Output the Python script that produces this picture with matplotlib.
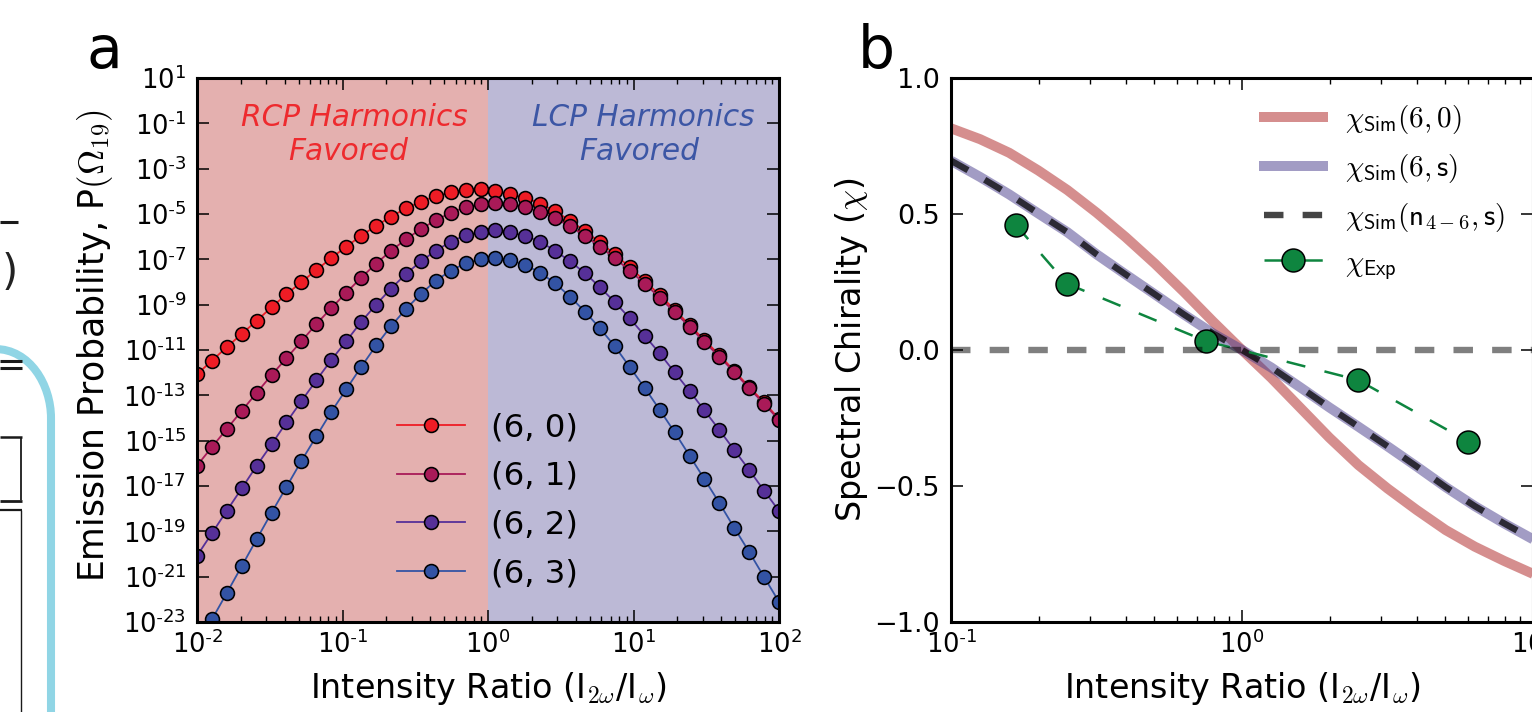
import numpy as np
import matplotlib
matplotlib.use("Agg")
import matplotlib.pyplot as plt
from matplotlib.lines import Line2D
from matplotlib.patches import PathPatch
from matplotlib.path import Path

W, H = 1532, 712
plt.rcParams.update({"font.family": "DejaVu Sans", "mathtext.fontset": "cm", "font.size": 18})

# Panel a: log10 of the emission probability, sampled at 40 log-spaced ratios
log_ratio_a = [-2.0, -1.897, -1.795, -1.692, -1.59, -1.487, -1.385, -1.282, -1.179, -1.077,
               -0.974, -0.872, -0.769, -0.667, -0.564, -0.462, -0.359, -0.256, -0.154, -0.051,
               0.051, 0.154, 0.256, 0.359, 0.462, 0.564, 0.667, 0.769, 0.872, 0.974,
               1.077, 1.179, 1.282, 1.385, 1.487, 1.59, 1.692, 1.795, 1.897, 2.0]
log_p_60 = [-12.07, -11.47, -10.87, -10.29, -9.71, -9.11, -8.54, -8.00, -7.47, -6.94,
            -6.44, -5.96, -5.52, -5.12, -4.75, -4.46, -4.21, -4.04, -3.94, -3.90,
            -3.97, -4.12, -4.28, -4.54, -4.88, -5.29, -5.76, -6.25, -6.78, -7.35,
            -7.95, -8.57, -9.22, -9.90, -10.56, -11.22, -11.92, -12.63, -13.31, -14.04]
log_p_61 = [-16.10, -15.28, -14.48, -13.68, -12.89, -12.10, -11.36, -10.61, -9.85, -9.15,
            -8.47, -7.81, -7.19, -6.62, -6.12, -5.66, -5.28, -4.94, -4.70, -4.57,
            -4.53, -4.57, -4.69, -4.91, -5.19, -5.54, -5.96, -6.44, -6.95, -7.50,
            -8.07, -8.69, -9.32, -9.97, -10.65, -11.29, -11.98, -12.69, -13.37, -14.09]
log_p_62 = [-20.08, -19.08, -18.09, -17.10, -16.11, -15.16, -14.19, -13.25, -12.33, -11.44,
            -10.61, -9.76, -9.00, -8.29, -7.65, -7.09, -6.62, -6.22, -5.94, -5.78,
            -5.72, -5.81, -5.96, -6.23, -6.62, -7.09, -7.61, -8.23, -8.89, -9.60,
            -10.37, -11.14, -11.98, -12.81, -13.66, -14.53, -15.41, -16.29, -17.20, -18.10]
log_p_63 = [-24.05, -22.88, -21.72, -20.53, -19.35, -18.17, -17.04, -15.89, -14.80, -13.73,
            -12.73, -11.75, -10.80, -9.95, -9.19, -8.53, -7.94, -7.50, -7.17, -6.98,
            -6.93, -7.03, -7.25, -7.59, -8.06, -8.65, -9.31, -10.04, -10.84, -11.75,
            -12.67, -13.63, -14.62, -15.66, -16.69, -17.75, -18.84, -19.91, -21.01, -22.11]
labels_a = ["(6, 0)", "(6, 1)", "(6, 2)", "(6, 3)"]
colors_a = ["#ee1c25", "#a91a58", "#563098", "#3353a4"]
yticks_a = [1, -1, -3, -5, -7, -9, -11, -13, -15, -17, -19, -21, -23]

# Panel b: spectral chirality
log_ratio_b = [-1.0, -0.9, -0.8, -0.7, -0.6, -0.5, -0.4, -0.3, -0.2, -0.1, 0.0,
               0.1, 0.2, 0.3, 0.4, 0.5, 0.6, 0.7, 0.8, 0.9, 1.0]
chi_sim_60 = [0.815, 0.775, 0.725, 0.660, 0.588, 0.505, 0.415, 0.318, 0.214, 0.105, 0.0,
              -0.102, -0.212, -0.322, -0.423, -0.509, -0.588, -0.662, -0.723, -0.775, -0.823]
chi_sim_6s = [0.696, 0.636, 0.572, 0.502, 0.433, 0.352, 0.278, 0.205, 0.131, 0.061, 0.0,
              -0.064, -0.137, -0.211, -0.282, -0.354, -0.428, -0.504, -0.574, -0.637, -0.696]
chi_sim_n46 = [0.696, 0.636, 0.572, 0.502, 0.433, 0.352, 0.278, 0.205, 0.131, 0.061, 0.0,
               -0.064, -0.137, -0.211, -0.282, -0.354, -0.428, -0.504, -0.574, -0.637, -0.696]
ratio_exp = [0.1667, 0.25, 0.75, 2.5, 6.0]
chi_exp = [0.461, 0.244, 0.033, -0.110, -0.337]


def ax_px(left, top, right, bottom):
    return [left / W, 1 - bottom / H, (right - left) / W, (bottom - top) / H]


def style(ax):
    for s in ax.spines.values():
        s.set_linewidth(2.2)
    ax.tick_params(which="major", direction="in", length=8.6, width=1.1, top=True, right=True, labelsize=18.5, pad=7)
    ax.tick_params(which="minor", direction="in", length=4.3, width=1.0, top=True, right=True)


fig = plt.figure(figsize=(W / 100, H / 100), dpi=100)

# ---- panel a
ax = fig.add_axes(ax_px(197, 78, 779, 622))
ax.set_xscale("log")
ax.set_yscale("log")
ax.axvspan(1e-2, 1, color="#e4b0af", lw=0, zorder=0)
ax.axvspan(1, 1e2, color="#bcb9d6", lw=0, zorder=0)
x_a = 10.0 ** np.array(log_ratio_a)
for vals, lab, col in zip([log_p_60, log_p_61, log_p_62, log_p_63], labels_a, colors_a):
    ax.plot(x_a, 10.0 ** np.array(vals), "-o", color=col, lw=1.3, ms=10, mec="black", mew=1.15, label=lab)
ax.set_xlim(1e-2, 1e2)
ax.set_ylim(1e-23, 1e1)
style(ax)
ax.set_xticks([1e-2, 1e-1, 1, 1e1, 1e2])
ax.set_xticklabels([r"$\mathdefault{10^{\text{-}2}}$", r"$\mathdefault{10^{\text{-}1}}$",
                    r"$\mathdefault{10^{0}}$", r"$\mathdefault{10^{1}}$", r"$\mathdefault{10^{2}}$"])
ax.set_yticks([10.0 ** e for e in yticks_a])
ax.set_yticklabels([r"$\mathdefault{10^{%s}}$" % (str(e).replace("-", r"\text{-}")) for e in yticks_a])
ax.yaxis.set_minor_locator(matplotlib.ticker.NullLocator())
ax.tick_params(axis="y", which="major", pad=8)
ax.tick_params(axis="x", which="major", pad=6)
ax.set_xlabel(r"Intensity Ratio (I$_{2\omega}$/I$_{\omega}$)", fontsize=24)
ax.xaxis.set_label_coords(0.5, -0.089)
ax.set_ylabel(r"Emission Probability, P$(\Omega_{19})$", fontsize=25)
ax.yaxis.set_label_coords(-0.141, 0.508)
for xa, xf, name, col in [(0.2698, 0.2595, "RCP Harmonics", "#ee2a2e"), (0.7666, 0.7595, "LCP Harmonics", "#3c56a5")]:
    ax.text(xa, 0.927, name, color=col, style="italic", fontsize=21.3, ha="center", va="center", transform=ax.transAxes)
    ax.text(xf, 0.865, "Favored", color=col, style="italic", fontsize=21.3, ha="center", va="center", transform=ax.transAxes)
ax.legend(loc="lower left", bbox_to_anchor=(0.311, 0.024), frameon=False, fontsize=23.3, handlelength=2.1,
          handletextpad=0.8, labelspacing=0.55, numpoints=1, borderaxespad=0.3, borderpad=0.3)

# ---- panel b
bx = fig.add_axes(ax_px(951, 78, 1533, 622))
bx.set_xscale("log")
x_b = 10.0 ** np.array(log_ratio_b)
bx.plot(x_b, chi_sim_60, color="#ad1f1f", alpha=0.5, lw=7.2, solid_capstyle="butt", label=r"$\chi_{\mathsf{Sim}}(6,0)$")
bx.plot(x_b, chi_sim_6s, color="#473b8b", alpha=0.5, lw=7.2, solid_capstyle="butt", label=r"$\chi_{\mathsf{Sim}}(6,\mathsf{s})$")
bx.plot(x_b, chi_sim_n46, color="black", alpha=0.73, lw=4.6, dashes=(3.05, 3.0), dash_capstyle="butt",
        label=r"$\chi_{\mathsf{Sim}}(\mathsf{n}_{4-6},\mathsf{s})$")
bx.plot(ratio_exp, chi_exp, color="#0e853f", lw=1.8, dashes=(7.7, 7.9), marker="o", ms=16.5, mfc="#0e853f",
        mec="black", mew=1.1, label=r"$\chi_{\mathsf{Exp}}$")
bx.plot([0.1, 10], [0, 0], color="black", alpha=0.5, lw=4.6, dashes=(3.05, 3.0), dash_capstyle="butt")
bx.set_xlim(0.1, 10)
bx.set_ylim(-1, 1)
style(bx)
bx.set_xticks([0.1, 1, 10])
bx.set_xticklabels([r"$\mathdefault{10^{\text{-}1}}$", r"$\mathdefault{10^{0}}$", r"$\mathdefault{10^{1}}$"])
bx.set_yticks([-1, -0.5, 0, 0.5, 1])
bx.set_yticklabels(["\u22121.0", "\u22120.5", "0.0", "0.5", "1.0"], fontsize=19.5)
bx.tick_params(axis="y", which="major", pad=8)
bx.tick_params(axis="x", which="major", pad=6)
bx.set_xlabel(r"Intensity Ratio (I$_{2\omega}$/I$_{\omega}$)", fontsize=24)
bx.xaxis.set_label_coords(0.5, -0.089)
bx.set_ylabel(r"Spectral Chirality ($\chi$)", fontsize=24)
bx.yaxis.set_label_coords(-0.139, 0.5)

handles, labels = bx.get_legend_handles_labels()
leg_opts = dict(frameon=False, fontsize=21, handlelength=2.36, handletextpad=0.6, borderaxespad=0, borderpad=0)
leg1 = bx.legend(handles[:3], labels[:3], loc="upper left", bbox_to_anchor=(0.529, 0.954), labelspacing=0.55, **leg_opts)
bx.add_artist(leg1)
leg2 = bx.legend(handles[3:], labels[3:], loc="center left", bbox_to_anchor=(0.529, 0.656), **leg_opts)
leg1.legend_handles[2].set_linestyle((5.27, (3.05, 3.0)))
leg2.legend_handles[0].set_linestyle((13.6, (7.7, 7.9)))

# ---- panel letters
fig.text(86 / W, 1 - 68 / H, "a", fontsize=42, ha="left", va="baseline")
fig.text(858 / W, 1 - 68 / H, "b", fontsize=42, ha="left", va="baseline")


# ---- fragments of a neighbouring panel at the left edge
def fx(px):
    return px / W


def fy(px):
    return 1 - px / H


def seg(x0, y0, x1, y1, lw, color="#1a1a1a"):
    fig.add_artist(Line2D([fx(x0), fx(x1)], [fy(y0), fy(y1)], lw=lw, color=color, solid_capstyle="butt", transform=fig.transFigure))


verts = [(fx(-5), fy(349)), (fx(30), fy(349)), (fx(51), fy(385)), (fx(51), fy(418)), (fx(51), fy(720))]
codes = [Path.MOVETO, Path.CURVE4, Path.CURVE4, Path.CURVE4, Path.LINETO]
fig.add_artist(PathPatch(Path(verts, codes), fc="none", ec="#90d5e5", lw=5.8, transform=fig.transFigure))
seg(0, 222, 18, 222, 2.2)
seg(0, 360.5, 22, 360.5, 2.2)
seg(0, 368, 22, 368, 2.2)
seg(0, 437, 22, 437, 1.8)
seg(21, 437, 21, 500, 1.3)
seg(0, 501, 22, 501, 2.0)
seg(0, 510, 22, 510, 1.6)
seg(21, 510, 21, 712, 1.0)
fig.text(2 / W, 1 - 285 / H, ")", fontsize=30, ha="left", va="baseline", color="#222222")

fig.savefig("out.png", dpi=100)
